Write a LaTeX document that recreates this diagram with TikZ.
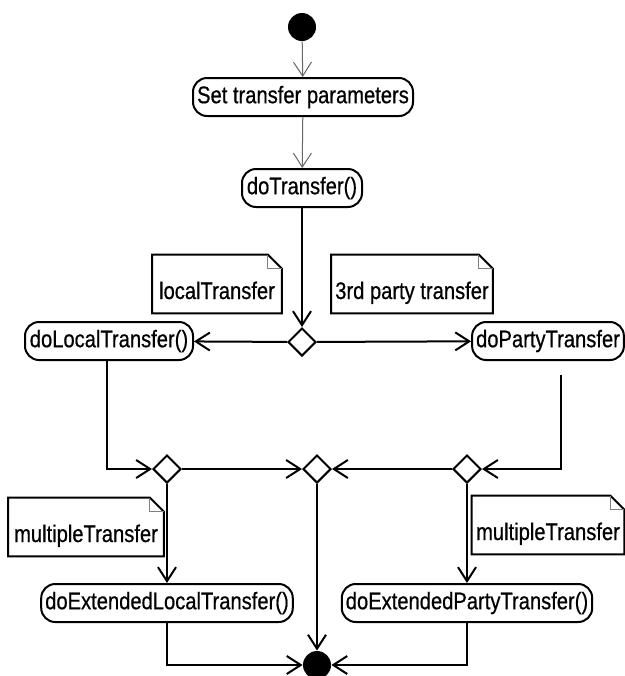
\documentclass[tikz,border=0pt]{standalone}
\usepackage{fontspec}
\setmainfont[FakeStretch=0.84,FakeBold=0.6]{Liberation Sans}
\usepackage{tikz}
\usetikzlibrary{shapes.geometric,arrows.meta}

% note outline with folded corner
\newcommand{\notefold}[1]{%
  \draw[black,line width=1pt] (#1.south west) |- ([xshift=-7pt]#1.north east)
     -- ([yshift=-7pt]#1.north east) -- (#1.south east) -- cycle;
  \draw[gray,line width=0.5pt] ([xshift=-7pt]#1.north east) |- ([yshift=-7pt]#1.north east);}

\begin{document}
\begin{tikzpicture}[x=0.5pt,y=-0.5pt,
    action/.style={draw,line width=1pt,rounded corners=7pt,minimum height=19pt,inner xsep=2pt,font=\fontsize{12}{14}\selectfont},
    note/.style={inner sep=0pt,text height=22pt,text depth=7pt,font=\fontsize{12}{14}\selectfont},
    branch/.style={draw,diamond,line width=1pt,inner sep=0pt,minimum size=14pt},
    blob/.style={circle,fill=black,inner sep=0pt,minimum size=14pt},
    flow/.style={line width=1pt,-{Straight Barb[length=7pt,width=9pt]}},
    thinflow/.style={flow,line width=0.5pt,draw=black!60}]
  \useasboundingbox (0,0) rectangle (625,676);

  %Actions
  \node[blob] (start) at (302,27) {};
  \node[action,minimum width=110pt] (setpar) at (303,97) {Set transfer parameters};
  \node[action,minimum width=60pt] (dotrans) at (302,188) {doTransfer()};
  \node[action,minimum width=84pt] (dolocal) at (109,341) {doLocalTransfer()};
  \node[action,minimum width=75.5pt] (doparty) at (548,341) {doPartyTransfer};
  \node[action,minimum width=123.5pt] (extlocal) at (167,603) {doExtendedLocalTransfer()};
  \node[action,minimum width=123.5pt] (extparty) at (467,603) {doExtendedPartyTransfer()};
  \node[blob] (stop) at (317,665) {};

  %Branches
  \node[branch] (btop) at (302,342) {};
  \node[branch] (bleft) at (167,469) {};
  \node[branch] (bmid) at (317,469) {};
  \node[branch] (bright) at (467,469) {};
  \coordinate (pdown) at (561,375);

  %Notes
  \node[note,minimum width=64.5pt] (nlocal) at (217,284) {localTransfer};
  \node[note,minimum width=80.5pt] (nparty) at (412,284) {3rd party transfer};
  \node[note,minimum width=77.5pt] (nmultl) at (86,527) {multipleTransfer};
  \node[note,minimum width=76pt] (nmultr) at (548,525) {multipleTransfer};
  \notefold{nlocal} \notefold{nparty} \notefold{nmultl} \notefold{nmultr}

  %Flows
  \draw[thinflow] (start) -- (setpar);
  \draw[thinflow] (setpar) -- (dotrans);
  \draw[flow] (dotrans) -- (btop);
  \draw[flow] (btop) -- (dolocal);
  \draw[flow] (btop) -- (doparty);
  \draw[flow] ([xshift=-1pt]dolocal.south) |- (bleft);
  \draw[flow] (pdown) |- (bright);
  \draw[flow] (bleft) -- (bmid);
  \draw[flow] (bright) -- (bmid);
  \draw[flow] (bleft) -- (extlocal);
  \draw[flow] (bmid) -- (stop);
  \draw[flow] (bright) -- (extparty);
  \draw[flow] (extlocal) |- (stop);
  \draw[flow] (extparty) |- (stop);
\end{tikzpicture}
\end{document}
